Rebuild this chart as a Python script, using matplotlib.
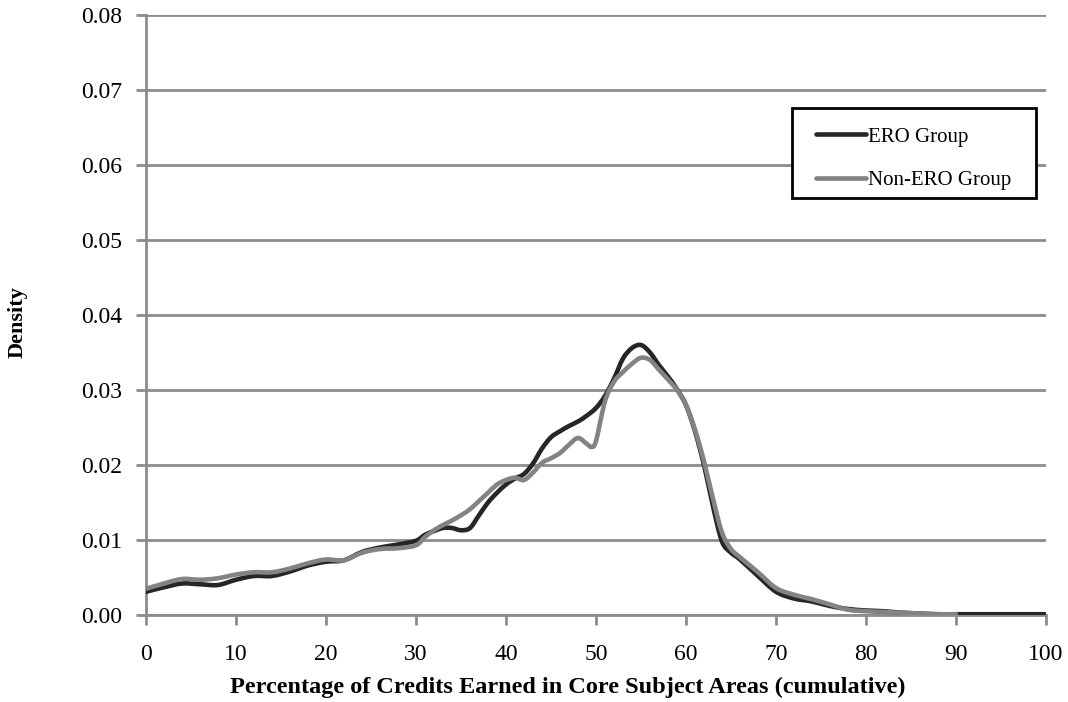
import matplotlib
matplotlib.use("Agg")
import matplotlib.pyplot as plt
from matplotlib.patches import Rectangle, PathPatch
from matplotlib.path import Path
from matplotlib.lines import Line2D

# ---- data ----
ero_x = [0, 2, 4, 6, 8, 10, 12, 14, 16, 18, 20, 22, 24, 26, 28, 30, 31, 32, 33, 34,
         35, 36, 37, 38, 39, 40, 41, 42, 43, 44, 45, 46, 47, 48, 49, 50, 51, 52, 53,
         54, 55, 56, 57, 58, 59, 60, 61, 62, 63, 64, 65, 66, 68, 70, 72, 74, 76, 78,
         80, 82, 84, 86, 88, 90, 95, 100]
ero_y = [0.0031, 0.0037, 0.0042, 0.0041, 0.0040, 0.0047, 0.0052, 0.0052, 0.0058, 0.0066,
         0.0071, 0.0073, 0.0084, 0.0090, 0.0094, 0.0099, 0.0107, 0.0112, 0.0116, 0.0116,
         0.0113, 0.0116, 0.0133, 0.0150, 0.0163, 0.0174, 0.0182, 0.0188, 0.0202, 0.0222,
         0.0237, 0.0245, 0.0252, 0.0258, 0.0266, 0.0276, 0.0292, 0.0315, 0.0342, 0.0356,
         0.0360, 0.0350, 0.0333, 0.0318, 0.0301, 0.0280, 0.0245, 0.0200, 0.0145, 0.0098,
         0.0083, 0.0074, 0.0052, 0.0031, 0.0022, 0.0018, 0.0012, 0.0008, 0.0006, 0.0005,
         0.0003, 0.0002, 0.0001, 0.0001, 0.0001, 0.0001]

non_x = [0, 2, 4, 6, 8, 10, 12, 14, 16, 18, 20, 22, 24, 26, 28, 30, 31, 32, 33, 34,
         35, 36, 37, 38, 39, 40, 41, 42, 43, 44, 45, 46, 47, 48, 49, 49.5, 50, 51, 52,
         53, 54, 55, 56, 57, 58, 59, 60, 61, 62, 63, 64, 65, 66, 68, 70, 72, 74, 76,
         78, 80, 82, 84, 86, 88, 90]
non_y = [0.0035, 0.0042, 0.0048, 0.0047, 0.0049, 0.0054, 0.0057, 0.0057, 0.0062, 0.0069,
         0.0074, 0.0073, 0.0083, 0.0088, 0.0089, 0.0093, 0.0104, 0.0113, 0.0120, 0.0126,
         0.0133, 0.0141, 0.0152, 0.0163, 0.0174, 0.0180, 0.0183, 0.0180, 0.0190, 0.0203,
         0.0209, 0.0216, 0.0227, 0.0236, 0.0228, 0.0224, 0.0232, 0.0285, 0.0311, 0.0324,
         0.0335, 0.0343, 0.0340, 0.0327, 0.0314, 0.0300, 0.0280, 0.0247, 0.0205, 0.0155,
         0.0110, 0.0088, 0.0077, 0.0057, 0.0036, 0.0027, 0.0021, 0.0014, 0.0007, 0.0005,
         0.0004, 0.0003, 0.0002, 0.0001, 0.0001]

x_ticks = [0, 10, 20, 30, 40, 50, 60, 70, 80, 90, 100]
y_ticks = [0.00, 0.01, 0.02, 0.03, 0.04, 0.05, 0.06, 0.07, 0.08]
series_labels = ["ERO Group", "Non-ERO Group"]
series_colors = ['#262626', '#838383']
x_label = "Percentage of Credits Earned in Core Subject Areas (cumulative)"
y_label = "Density"

plt.rcParams['font.family'] = ['Liberation Serif', 'DejaVu Serif']

W, H = 1068, 702
fig = plt.figure(figsize=(W / 100, H / 100), dpi=100)
ax = fig.add_axes([146 / W, 87 / H, 900 / W, 600 / H])


def ax_xy(px, py):
    """pixel position (from top-left of figure) -> axes fraction"""
    return (px - 146) / 900, (615 - py) / 600


def smooth_path(xs, ys):
    """Bezier path through the data points (Excel-style smoothed line)."""
    n = len(xs)
    verts = [(xs[0], ys[0])]
    codes = [Path.MOVETO]
    for i in range(n - 1):
        i0 = max(i - 1, 0)
        i3 = min(i + 2, n - 1)
        c1 = (xs[i] + (xs[i + 1] - xs[i0]) / 6, ys[i] + (ys[i + 1] - ys[i0]) / 6)
        c2 = (xs[i + 1] - (xs[i3] - xs[i]) / 6, ys[i + 1] - (ys[i3] - ys[i]) / 6)
        verts += [c1, c2, (xs[i + 1], ys[i + 1])]
        codes += [Path.CURVE4] * 3
    return Path(verts, codes)


grid_c = '#8c8c8c'
ax.set_xlim(0, 100)
ax.set_ylim(0, 0.08)
ax.set_xticks(x_ticks)
ax.set_yticks(y_ticks)
ax.set_yticklabels([f"{v:.2f}" for v in y_ticks])
ax.yaxis.grid(True, color=grid_c, linewidth=2)
ax.set_axisbelow(True)
for s in ['top', 'right']:
    ax.spines[s].set_visible(False)
for s in ['left', 'bottom']:
    ax.spines[s].set_color(grid_c)
    ax.spines[s].set_linewidth(2)
ax.tick_params(axis='both', color=grid_c, width=2, length=7, labelsize=17)
ax.tick_params(axis='y', pad=10)
ax.tick_params(axis='x', pad=14)

for xs, ys, c, z in [(ero_x, ero_y, series_colors[0], 3), (non_x, non_y, series_colors[1], 4)]:
    ax.add_patch(PathPatch(smooth_path(xs, ys), transform=ax.transData, fill=False,
                           edgecolor=c, linewidth=3.3, capstyle='round',
                           joinstyle='round', zorder=z))

ax.set_xlabel(x_label, fontsize=17.5, fontweight='bold')
ax.xaxis.set_label_coords(*ax_xy(568, 687))
ax.xaxis.label.set_va('center')
ax.set_ylabel(y_label, fontsize=16, fontweight='bold')
ax.yaxis.set_label_coords(*ax_xy(18, 322))
ax.yaxis.label.set_va('center')

handles = [Line2D([], [], color=c, linewidth=3.3, solid_capstyle='round')
           for c in series_colors]
leg = ax.legend(handles, series_labels, loc='upper left', bbox_to_anchor=ax_xy(816, 127),
                fontsize=15, frameon=False, handlelength=2.4,
                handletextpad=0.1, labelspacing=1.14, borderpad=0, borderaxespad=0)
bx0, by0 = ax_xy(792, 198)
bx1, by1 = ax_xy(1036, 108)
ax.add_patch(Rectangle((bx0, by0), bx1 - bx0, by1 - by0, transform=ax.transAxes,
                       facecolor='white', edgecolor='black', linewidth=2, zorder=5))
leg.set_zorder(6)

fig.savefig("out.png", dpi=100)
